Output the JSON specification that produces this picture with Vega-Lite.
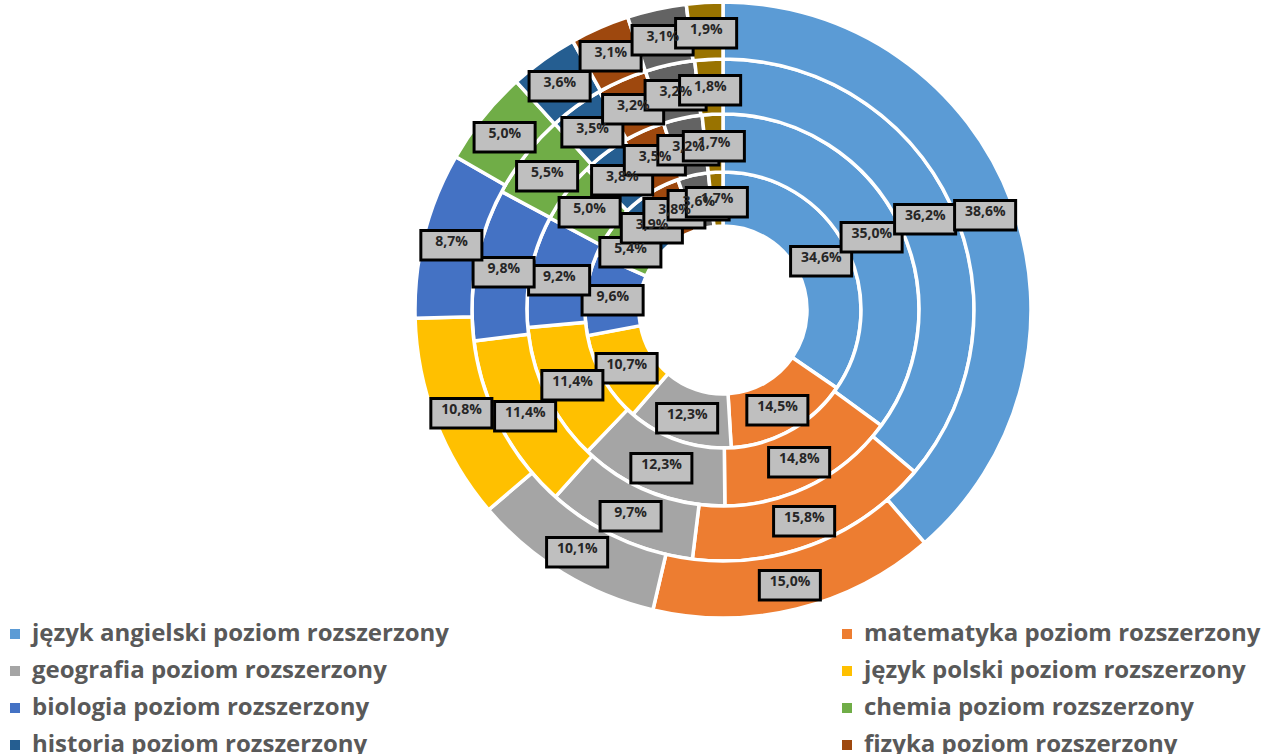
{
  "$schema": "https://vega.github.io/schema/vega-lite/v6.json",
  "width": 620,
  "height": 620,
  "autosize": {"type": "none"},
  "padding": {"left": 413, "top": 0, "right": 247, "bottom": 134},
  "background": "white",
  "config": {
    "view": {"stroke": null},
    "locale": {"number": {"decimal": ",", "thousands": " ", "grouping": [3], "currency": ["", " zł"], "percent": "%"}}
  },
  "datasets": {
    "rings": [
      {"ring": 1, "k": 1, "subject": "język angielski poziom rozszerzony", "value": 0.346},
      {"ring": 1, "k": 2, "subject": "matematyka poziom rozszerzony", "value": 0.145},
      {"ring": 1, "k": 3, "subject": "geografia poziom rozszerzony", "value": 0.123},
      {"ring": 1, "k": 4, "subject": "język polski poziom rozszerzony", "value": 0.107},
      {"ring": 1, "k": 5, "subject": "biologia poziom rozszerzony", "value": 0.096},
      {"ring": 1, "k": 6, "subject": "chemia poziom rozszerzony", "value": 0.054},
      {"ring": 1, "k": 7, "subject": "historia poziom rozszerzony", "value": 0.039},
      {"ring": 1, "k": 8, "subject": "fizyka poziom rozszerzony", "value": 0.038},
      {"ring": 1, "k": 9, "subject": "wiedza o społeczeństwie poziom rozszerzony", "value": 0.036},
      {"ring": 1, "k": 10, "subject": "informatyka poziom rozszerzony", "value": 0.017},
      {"ring": 2, "k": 1, "subject": "język angielski poziom rozszerzony", "value": 0.350},
      {"ring": 2, "k": 2, "subject": "matematyka poziom rozszerzony", "value": 0.148},
      {"ring": 2, "k": 3, "subject": "geografia poziom rozszerzony", "value": 0.123},
      {"ring": 2, "k": 4, "subject": "język polski poziom rozszerzony", "value": 0.114},
      {"ring": 2, "k": 5, "subject": "biologia poziom rozszerzony", "value": 0.092},
      {"ring": 2, "k": 6, "subject": "chemia poziom rozszerzony", "value": 0.050},
      {"ring": 2, "k": 7, "subject": "historia poziom rozszerzony", "value": 0.038},
      {"ring": 2, "k": 8, "subject": "fizyka poziom rozszerzony", "value": 0.035},
      {"ring": 2, "k": 9, "subject": "wiedza o społeczeństwie poziom rozszerzony", "value": 0.032},
      {"ring": 2, "k": 10, "subject": "informatyka poziom rozszerzony", "value": 0.017},
      {"ring": 3, "k": 1, "subject": "język angielski poziom rozszerzony", "value": 0.362},
      {"ring": 3, "k": 2, "subject": "matematyka poziom rozszerzony", "value": 0.158},
      {"ring": 3, "k": 3, "subject": "geografia poziom rozszerzony", "value": 0.097},
      {"ring": 3, "k": 4, "subject": "język polski poziom rozszerzony", "value": 0.114},
      {"ring": 3, "k": 5, "subject": "biologia poziom rozszerzony", "value": 0.098},
      {"ring": 3, "k": 6, "subject": "chemia poziom rozszerzony", "value": 0.055},
      {"ring": 3, "k": 7, "subject": "historia poziom rozszerzony", "value": 0.035},
      {"ring": 3, "k": 8, "subject": "fizyka poziom rozszerzony", "value": 0.032},
      {"ring": 3, "k": 9, "subject": "wiedza o społeczeństwie poziom rozszerzony", "value": 0.032},
      {"ring": 3, "k": 10, "subject": "informatyka poziom rozszerzony", "value": 0.018},
      {"ring": 4, "k": 1, "subject": "język angielski poziom rozszerzony", "value": 0.386},
      {"ring": 4, "k": 2, "subject": "matematyka poziom rozszerzony", "value": 0.150},
      {"ring": 4, "k": 3, "subject": "geografia poziom rozszerzony", "value": 0.101},
      {"ring": 4, "k": 4, "subject": "język polski poziom rozszerzony", "value": 0.108},
      {"ring": 4, "k": 5, "subject": "biologia poziom rozszerzony", "value": 0.087},
      {"ring": 4, "k": 6, "subject": "chemia poziom rozszerzony", "value": 0.050},
      {"ring": 4, "k": 7, "subject": "historia poziom rozszerzony", "value": 0.036},
      {"ring": 4, "k": 8, "subject": "fizyka poziom rozszerzony", "value": 0.031},
      {"ring": 4, "k": 9, "subject": "wiedza o społeczeństwie poziom rozszerzony", "value": 0.031},
      {"ring": 4, "k": 10, "subject": "informatyka poziom rozszerzony", "value": 0.019}
    ]
  },
  "data": {"name": "rings"},
  "encoding": {
    "theta": {"field": "value", "type": "quantitative", "stack": "normalize"},
    "order": {"field": "k", "type": "quantitative"},
    "color": {
      "field": "subject",
      "type": "nominal",
      "sort": null,
      "scale": {
        "domain": ["język angielski poziom rozszerzony", "matematyka poziom rozszerzony", "geografia poziom rozszerzony", "język polski poziom rozszerzony", "biologia poziom rozszerzony", "chemia poziom rozszerzony", "historia poziom rozszerzony", "fizyka poziom rozszerzony", "wiedza o społeczeństwie poziom rozszerzony", "informatyka poziom rozszerzony"],
        "range": ["#5B9BD5", "#ED7D31", "#A5A5A5", "#FFC000", "#4472C4", "#70AD47", "#255E91", "#9E480E", "#636363", "#997300"]
      },
      "legend": {
        "title": null,
        "orient": "none",
        "legendX": -410,
        "legendY": 622,
        "direction": "horizontal",
        "columns": 2,
        "columnPadding": 268,
        "rowPadding": 13,
        "padding": 0,
        "symbolType": "square",
        "symbolSize": 100,
        "symbolStrokeWidth": 0,
        "labelFont": "Open Sans",
        "labelFontWeight": "bold",
        "labelFontSize": 24,
        "labelColor": "#595959",
        "labelLimit": 0,
        "labelOffset": 5
      }
    }
  },
  "layer": [
    {"transform": [{"filter": "datum.ring == 1"}], "mark": {"type": "arc", "radius": 138, "radius2": 84, "stroke": "white", "strokeWidth": 3.5}},
    {"transform": [{"filter": "datum.ring == 2"}], "mark": {"type": "arc", "radius": 196, "radius2": 138, "stroke": "white", "strokeWidth": 3.5}},
    {"transform": [{"filter": "datum.ring == 3"}], "mark": {"type": "arc", "radius": 251, "radius2": 196, "stroke": "white", "strokeWidth": 3.5}},
    {"transform": [{"filter": "datum.ring == 4"}], "mark": {"type": "arc", "radius": 308, "radius2": 251, "stroke": "white", "strokeWidth": 3.5}},
    {"transform": [{"filter": "datum.ring == 1"}], "layer": [
      {"mark": {"type": "text", "radius": 111, "text": "▬", "font": "DejaVu Sans", "fontSize": 80, "stroke": "black", "strokeWidth": 3, "baseline": "middle"}, "encoding": {"color": {"value": "#BFBFBF"}}},
      {"mark": {"type": "text", "radius": 111, "font": "Open Sans", "fontWeight": "bold", "fontSize": 14, "baseline": "middle"}, "encoding": {"text": {"field": "value", "type": "quantitative", "format": ".1%"}, "color": {"value": "#262626"}}}
    ]},
    {"transform": [{"filter": "datum.ring == 2"}], "layer": [
      {"mark": {"type": "text", "radius": 167, "text": "▬", "font": "DejaVu Sans", "fontSize": 80, "stroke": "black", "strokeWidth": 3, "baseline": "middle"}, "encoding": {"color": {"value": "#BFBFBF"}}},
      {"mark": {"type": "text", "radius": 167, "font": "Open Sans", "fontWeight": "bold", "fontSize": 14, "baseline": "middle"}, "encoding": {"text": {"field": "value", "type": "quantitative", "format": ".1%"}, "color": {"value": "#262626"}}}
    ]},
    {"transform": [{"filter": "datum.ring == 3"}], "layer": [
      {"mark": {"type": "text", "radius": 223, "text": "▬", "font": "DejaVu Sans", "fontSize": 80, "stroke": "black", "strokeWidth": 3, "baseline": "middle"}, "encoding": {"color": {"value": "#BFBFBF"}}},
      {"mark": {"type": "text", "radius": 223, "font": "Open Sans", "fontWeight": "bold", "fontSize": 14, "baseline": "middle"}, "encoding": {"text": {"field": "value", "type": "quantitative", "format": ".1%"}, "color": {"value": "#262626"}}}
    ]},
    {"transform": [{"filter": "datum.ring == 4"}], "layer": [
      {"mark": {"type": "text", "radius": 280, "text": "▬", "font": "DejaVu Sans", "fontSize": 80, "stroke": "black", "strokeWidth": 3, "baseline": "middle"}, "encoding": {"color": {"value": "#BFBFBF"}}},
      {"mark": {"type": "text", "radius": 280, "font": "Open Sans", "fontWeight": "bold", "fontSize": 14, "baseline": "middle"}, "encoding": {"text": {"field": "value", "type": "quantitative", "format": ".1%"}, "color": {"value": "#262626"}}}
    ]}
  ]
}
